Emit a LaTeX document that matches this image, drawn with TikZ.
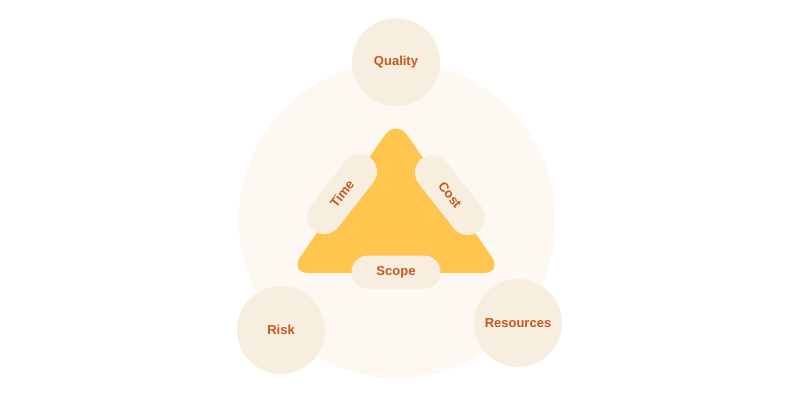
\documentclass[tikz,border=0pt]{standalone}
\usepackage{fontspec}
\setmainfont{Liberation Sans}
\definecolor{ringbg}{HTML}{FDF8F2}
\definecolor{bubble}{HTML}{F7EEE0}
\definecolor{tri}{HTML}{FFC54F}
\definecolor{label}{HTML}{C9561A}
\begin{document}
\begin{tikzpicture}[x=1pt,y=-1pt,
    bubblenode/.style={circle,fill=bubble,minimum size=88pt,inner sep=0pt,
      text=label,font=\bfseries\fontsize{13}{15}\selectfont},
    pillnode/.style={rectangle,rounded corners=17.5pt,fill=bubble,minimum height=35pt,
      minimum width=92pt,inner sep=0pt,text=label,font=\bfseries\fontsize{13}{15}\selectfont}]
      \useasboundingbox (0,0) rectangle (800,400);
      \fill[white] (0,0) rectangle (800,400);
      \def\ang{52};
      \coordinate (O) at (397,220);
      \fill[ringbg] (O) circle (158pt);
      \coordinate (A) at (396,119);
      \coordinate (B) at (289,273);
      \coordinate (C) at (503,273);
      \fill[tri,rounded corners=20pt] (A) -- (B) -- (C) -- cycle;
      \node[bubblenode] (quality) at (396,62) {Quality};
      \node[bubblenode] (risk) at (281,330) {Risk};
      \node[bubblenode] (resources) at (518,323) {Resources};
      \node[pillnode,rotate=\ang] (time) at (342,194) {Time};
      \node[pillnode,rotate=-\ang] (cost) at (450,195) {Cost};
      \node[pillnode,minimum width=89pt,minimum height=33pt,rounded corners=16.5pt] (scope) at (396,272) {Scope};
    \end{tikzpicture}
\end{document}
